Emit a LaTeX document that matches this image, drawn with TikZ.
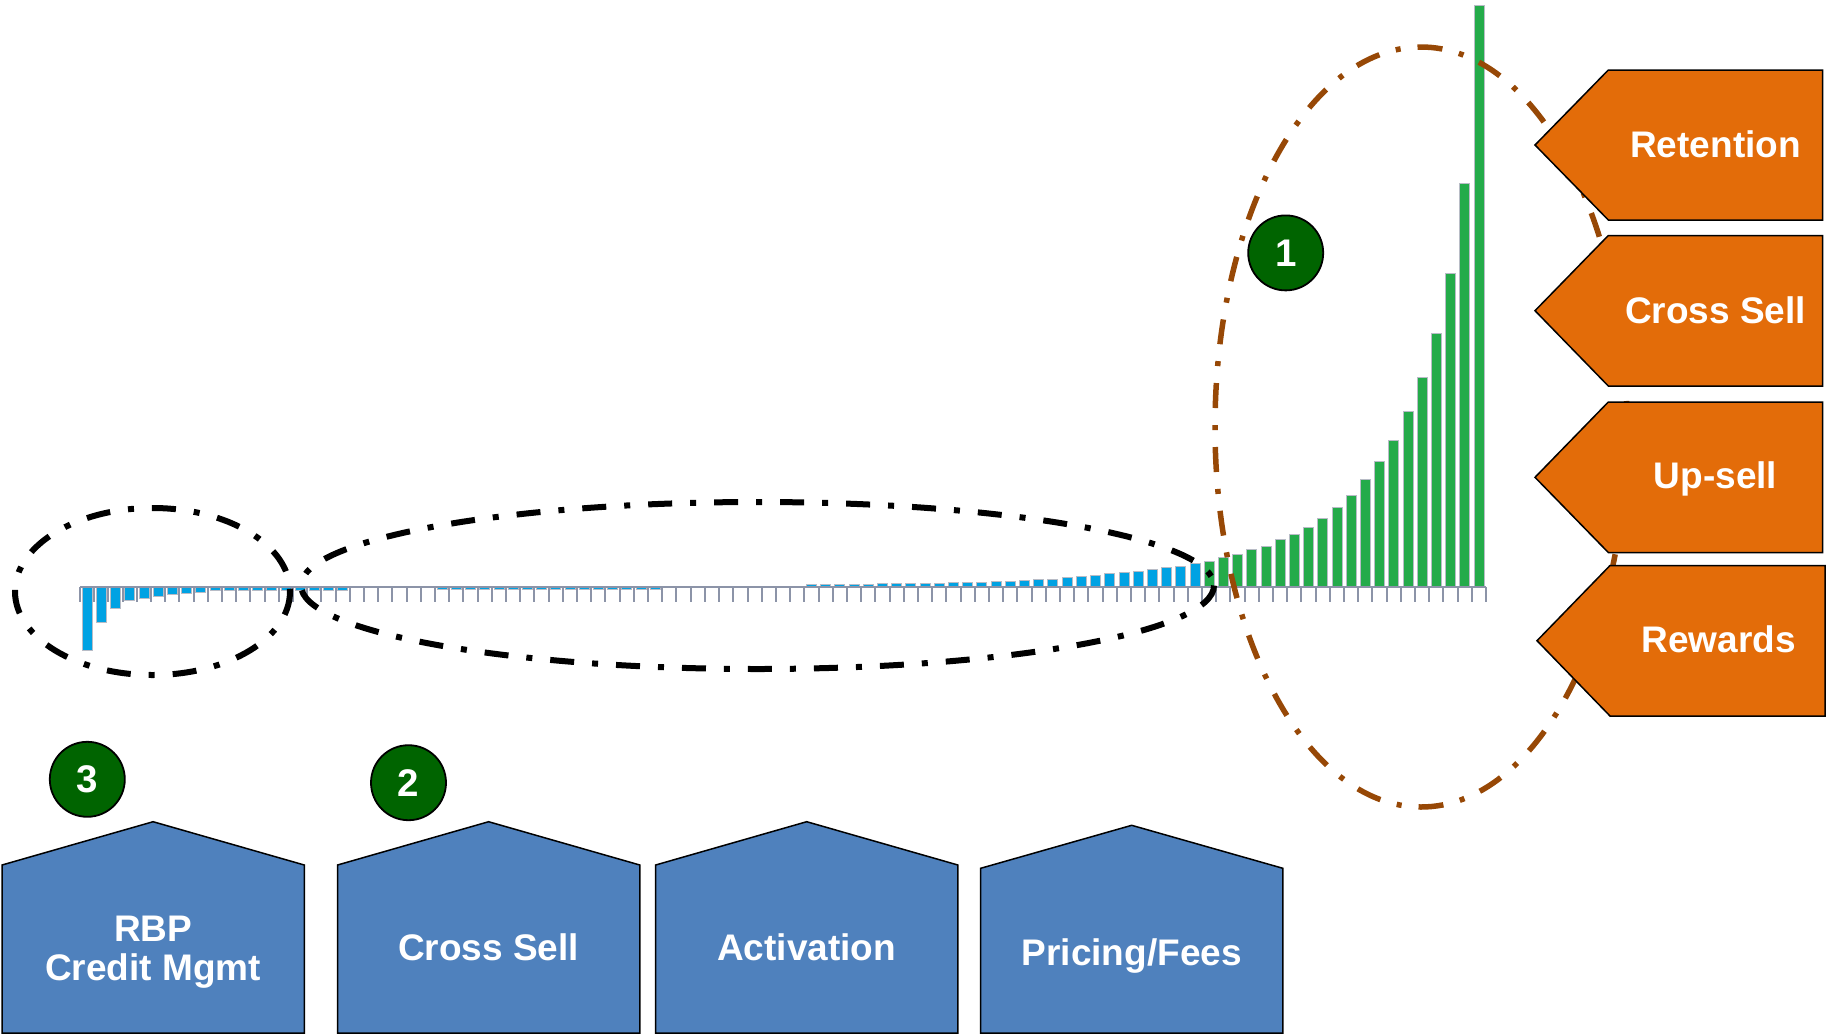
\documentclass[tikz,border=0pt]{standalone}
\usepackage{fontspec}
\setmainfont{Liberation Sans}
\definecolor{housefill}{HTML}{4F81BD}
\definecolor{tagorange}{HTML}{E36C09}
\definecolor{ovalbrown}{HTML}{974806}
\definecolor{circgreen}{HTML}{006400}
\definecolor{barblue}{HTML}{00A2E3}
\definecolor{bargreen}{HTML}{24AB4A}
\definecolor{barline}{HTML}{B8BCC6}
\definecolor{axisgray}{HTML}{8C94A8}
\tikzset{
  housebox/.style={fill=housefill, draw=black, line width=1.5pt, line join=miter},
  tagbox/.style={fill=tagorange, draw=black, line width=1.5pt, line join=miter},
  boxtxt/.style={text=white, font=\fontsize{37}{39}\selectfont\bfseries, inner sep=0pt, align=center},
  numcirc/.style={circle, fill=circgreen, draw=black, line width=1.8pt, minimum size=75pt, inner sep=0pt, text=white, font=\fontsize{38.5}{38.5}\selectfont\bfseries},
  blackoval/.style={draw=black, line width=6pt, dash pattern=on 24pt off 18pt on 6pt off 18pt},
  brownoval/.style={draw=ovalbrown, line width=5.5pt, dash pattern=on 25pt off 17pt on 5pt off 17pt},
  axisline/.style={draw=axisgray, line width=2.5pt},
  tickline/.style={draw=axisgray, line width=2pt},
}
\begin{document}
\begin{tikzpicture}[x=1pt,y=-1pt]
\useasboundingbox (0,0) rectangle (1831,1034);

% bars
\foreach \v [count=\i] in {-63.7,-35.3,-21.3,-13.7,-11.3,-9.7,-7.3,-6.3,-5,-3.7,
  -3,-3,-3,-3,-3,-3,-3,-3,-3,
  0,0,0,0,0,0,
  -2.5,-2.5,-2.5,-2.5,-2.5,-2.5,-2.5,-2.5,-2.5,-2.5,-2.5,-2.5,-2.5,-2.5,-2.5,-2.5,
  0,0,0,0,0,0,0,0,0,0,
  2.2,2.2,2.2,2.2,2.2,
  3.5,3.5,3.5,3.5,3.5,
  4.5,4.5,4.5,
  6,6,
  7,8,8,9.3,10.7,12,13.3,14.7,16,17.5,19.5,21,23.5,
  25.5,29.5,32.5,37.5,41,47.5,52.5,60,69,79.5,92,107.7,125.3,147,175.5,210,254,314,404,581.3}{
  \pgfmathsetmacro\xc{80+14.202*(\i-0.5)}
  \pgfmathsetmacro\yt{587-(\v)}
  \ifnum\i<80 \colorlet{bc}{barblue}\else\colorlet{bc}{bargreen}\fi
  \ifdim\v pt=0pt\relax\else
    \filldraw[fill=bc, draw=barline, line width=0.7pt] (\xc-5,587) rectangle (\xc+5,\yt);
  \fi
}

% axis
\draw[axisline] (80,587) -- (1486,587);
\foreach \k in {0,...,99}{
  \draw[tickline] (80+14.202*\k,587) -- ++(0,15);
}

% ovals
\draw[blackoval] (152.5,591.5) ellipse [x radius=137.5, y radius=83.5];
\draw[blackoval] (757.5,585.5) ellipse [x radius=456.5, y radius=83.5];
\draw[brownoval] (1421,427) ellipse [x radius=206, y radius=380];

% numbered circles
\node[numcirc] (c1) at (1285.7,252.9) {1};
\node[numcirc] (c2) at (408.5,782.7) {2};
\node[numcirc] (c3) at (87.3,779.3) {3};

% bottom boxes
\draw[housebox] (2,1033) -- (2,865) -- (153.1,821.7) -- (304.3,865) -- (304.3,1033) -- cycle;
\draw[housebox] (337.5,1033) -- (337.5,865) -- (488.6,821.7) -- (639.8,865) -- (639.8,1033) -- cycle;
\draw[housebox] (655.6,1033) -- (655.6,865) -- (806.7,821.7) -- (957.9,865) -- (957.9,1033) -- cycle;
\draw[housebox] (980.6,1033) -- (980.6,868.3) -- (1131.7,825.3) -- (1282.9,868.3) -- (1282.9,1033) -- cycle;
\node[boxtxt] (rbp) at (153.1,951.8) {RBP\\Credit Mgmt};
\node[boxtxt, anchor=base] (xsell) at (488.6,960.7) {Cross Sell};
\node[boxtxt, anchor=base] (activ) at (806.7,960.7) {Activation};
\node[boxtxt, anchor=base] (price) at (1131.7,965) {Pricing/Fees};

% right tags
\draw[tagbox] (1535,145) -- (1608.3,70) -- (1822.7,70) -- (1822.7,220) -- (1608.3,220) -- cycle;
\draw[tagbox] (1535,310.7) -- (1608.3,235.5) -- (1822.7,235.5) -- (1822.7,386) -- (1608.3,386) -- cycle;
\draw[tagbox] (1535,477.3) -- (1608.3,402) -- (1822.7,402) -- (1822.7,552.5) -- (1608.3,552.5) -- cycle;
\draw[tagbox] (1537,640.7) -- (1610,565.5) -- (1825,565.5) -- (1825,716) -- (1610,716) -- cycle;
\node[boxtxt, anchor=base] (ret) at (1715.5,157) {Retention};
\node[boxtxt, anchor=base] (cs) at (1715.5,323.5) {Cross Sell};
\node[boxtxt, anchor=base] (up) at (1715.5,488.7) {Up-sell};
\node[boxtxt, anchor=base] (rew) at (1718.5,652.5) {Rewards};
\end{tikzpicture}
\end{document}
